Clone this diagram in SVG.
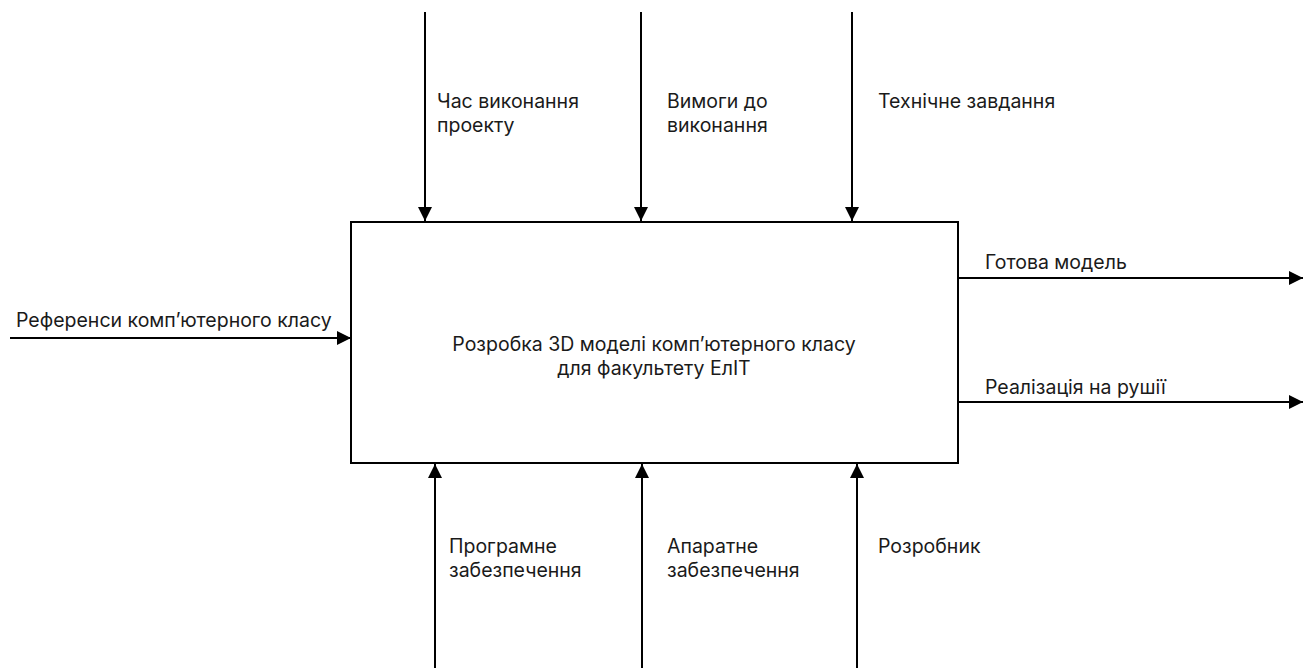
<svg xmlns="http://www.w3.org/2000/svg" width="1311" height="668" viewBox="0 0 1311 668">
<style>
text{font-family:Inter,"Noto Sans",sans-serif;font-size:19.5px;fill:#1a1a1a}
.c{text-anchor:middle}
.ln{stroke:#000;stroke-width:2;fill:none}
</style>
<defs>
<marker id="ah" viewBox="0 0 10 10" refX="10" refY="5" markerWidth="14" markerHeight="14" markerUnits="userSpaceOnUse" orient="auto">
<path d="M0,0 L10,5 L0,10 z" fill="#000"/>
</marker>
</defs>
<rect width="1311" height="668" fill="#fff"/>
<g id="process">
<rect x="351" y="222" width="607" height="241" fill="#fff" stroke="#000" stroke-width="2"/>
<text class="c" x="654" y="351">Розробка 3D моделі комп’ютерного класу</text>
<text class="c" x="654" y="375">для факультету ЕлІТ</text>
</g>
<g id="connectors">
<path class="ln" d="M425,12 V221" marker-end="url(#ah)"/>
<path class="ln" d="M641,12 V221" marker-end="url(#ah)"/>
<path class="ln" d="M852,12 V221" marker-end="url(#ah)"/>
<path class="ln" d="M10,338 H351" marker-end="url(#ah)"/>
<path class="ln" d="M958,278 H1303" marker-end="url(#ah)"/>
<path class="ln" d="M958,402 H1303" marker-end="url(#ah)"/>
<path class="ln" d="M435,668 V464" marker-end="url(#ah)"/>
<path class="ln" d="M642,668 V464" marker-end="url(#ah)"/>
<path class="ln" d="M857,668 V464" marker-end="url(#ah)"/>
</g>
<g id="labels">
<text x="437" y="108">Час виконання</text>
<text x="437" y="132">проекту</text>
<text x="667" y="108">Вимоги до</text>
<text x="667" y="132">виконання</text>
<text x="878" y="108">Технічне завдання</text>
<text x="16" y="327">Референси комп’ютерного класу</text>
<text x="985" y="269">Готова модель</text>
<text x="985" y="394">Реалізація на рушії</text>
<text x="449" y="553">Програмне</text>
<text x="449" y="577">забезпечення</text>
<text x="667" y="553">Апаратне</text>
<text x="667" y="577">забезпечення</text>
<text x="878" y="553">Розробник</text>
</g>
</svg>
